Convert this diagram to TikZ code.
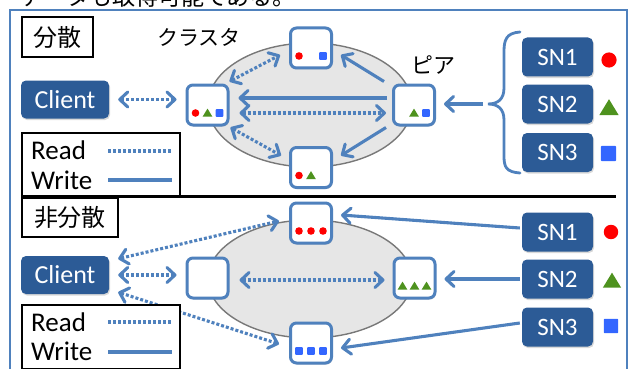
\documentclass[tikz,border=0pt]{standalone}
\usepackage{fontspec}
\setmainfont{Carlito}
\newfontfamily\jp{Noto Sans CJK JP}
\usetikzlibrary{arrows.meta,calc,shadows,shapes.geometric}

\definecolor{linkblue}{RGB}{79,129,189}
\definecolor{snfill}{RGB}{44,91,150}
\definecolor{ovalfill}{RGB}{230,230,230}
\definecolor{ovaledge}{RGB}{120,120,120}
\definecolor{dotred}{RGB}{255,0,0}
\definecolor{dotgreen}{RGB}{78,146,30}
\definecolor{dotblue}{RGB}{51,102,255}

\begin{document}
\begin{tikzpicture}[x=1pt,y=-1pt,
  >={Straight Barb[length=8pt,width=15pt,round]},
  rd/.style={draw=linkblue, line width=3.1pt, dash pattern=on 3pt off 2pt},
  wr/.style={draw=linkblue, line width=3.1pt},
  softshadow/.style={drop shadow={shadow xshift=1pt, shadow yshift=-1.5pt, opacity=0.3}},
  darkbox/.style={fill=snfill, rounded corners=5pt, text=white, inner sep=0pt,
    softshadow},
  client/.style={darkbox, minimum width=88pt, minimum height=38pt,
    font=\fontsize{26}{26}\selectfont},
  snbox/.style={darkbox, minimum width=71pt, minimum height=39pt,
    font=\fontsize{25}{25}\selectfont},
  peer/.style={draw=linkblue, line width=3pt, fill=white, rounded corners=6pt,
    minimum width=41pt, minimum height=40pt, inner sep=0pt, softshadow},
  tagbox/.style={draw=black, line width=1.2pt, fill=white, inner sep=0pt,
    font=\jp\fontsize{24}{24}\selectfont},
  legbox/.style={draw=black, line width=1.2pt, fill=white, inner sep=0pt,
    minimum width=158pt},
  legtext/.style={anchor=base west, inner sep=0pt, font=\fontsize{27}{27}\selectfont},
  oval/.style={ellipse, draw=ovaledge, fill=ovalfill, line width=1.4pt, inner sep=0pt},
  rdot/.pic={\fill[dotred] (0,0) circle (3.8);},
  gtri/.pic={\fill[dotgreen] (-4.8,3.5) -- (4.8,3.5) -- (0,-4.4) -- cycle;},
  bsq/.pic={\fill[dotblue, rounded corners=0.8pt] (-3.8,-3.8) rectangle (3.8,3.8);},
]
\useasboundingbox (0,0) rectangle (629,369);
\clip (0,0) rectangle (629,369);

% line of running text above the figure
\node[anchor=base west, inner sep=0pt, font=\jp\fontsize{23}{23}\selectfont]
  (note) at (20,6) {データも取得可能である。};

% outer frame
\draw[linkblue, line width=1.5pt] (10,380) -- (10,10) -- (627,10) -- (627,380);

%================ distributed =================
\node[tagbox, minimum width=71pt, minimum height=40pt] (tagA) at (57.5,37) {分散};
\node[font=\jp\fontsize{21}{21}\selectfont] (clusterlbl) at (199,37) {クラスタ};
\node[font=\jp\fontsize{22}{22}\selectfont] (peerlbl) at (433,65) {ピア};

\node[oval, minimum width=204pt, minimum height=124pt] (ovalA) at (310,105) {};

\node[client] (c1) at (65,99.5) {Client};

\node[peer] (L1) at (207.5,105) {};
\node[peer] (T1) at (311,48) {};
\node[peer] (R1) at (414,105) {};
\node[peer] (B1) at (311,167.5) {};

\pic at ($(L1)+(-12,8)$) {rdot};
\pic at ($(L1)+(0,8)$) {gtri};
\pic at ($(L1)+(12,8)$) {bsq};
\pic at ($(T1)+(-12,8)$) {rdot};
\pic at ($(T1)+(12,8)$) {bsq};
\pic at ($(R1)+(0,8)$) {gtri};
\pic at ($(R1)+(12,8)$) {bsq};
\pic at ($(B1)+(-12,8)$) {rdot};
\pic at ($(B1)+(0,8)$) {gtri};

\node[snbox] (sn11) at (557.5,57) {SN1};
\node[snbox] (sn12) at (557.5,104) {SN2};
\node[snbox] (sn13) at (557.5,152.5) {SN3};
\pic[scale=2] at (609,60) {rdot};
\pic[scale=2] at (609,108) {gtri};
\pic[scale=2] at (608.5,153.5) {bsq};

% brace gathering the three sources
\coordinate (braceTip) at (488,104);
\draw[linkblue, line width=2.8pt, line cap=round]
  (520,32) .. controls (506,33) and (504,40) .. (504,52) -- (504,88)
  .. controls (504,99) and (498,104) .. (braceTip)
  .. controls (498,104) and (504,109) .. (504,120) -- (504,156)
  .. controls (504,167) and (506,172) .. (520,173);

% connectors
\draw[rd,<->] ($(c1.east)+(9,0)$) -- ($(c1.east -| L1.west)+(-9,0)$);
\draw[rd,<->] ($(L1.north east)+(0,-2)$) -- ($(T1.west)+(-9,7)$);
\draw[rd,<->] ($(L1.south east)+(1,1)$) -- ($(B1.west)+(-8,-12)$);
\draw[wr,->] ($(R1.west)+(-5,-7)$) -- ($(L1.east)+(9,-7)$);
\draw[rd,<->] ($(L1.east)+(10,8)$) -- ($(R1.west)+(-6,8)$);
\draw[wr,->] ($(R1.north west)+(-8,-2)$) -- ($(T1.east)+(8,7)$);
\draw[wr,->] ($(R1.south west)+(-6,1)$) -- ($(B1.east)+(8,-12)$);
\draw[wr,->] ($(braceTip)+(-5,0)$) -- ($(R1.east)+(8,-1)$);

% legend
\node[legbox, minimum height=64pt] (legA) at (101,165) {};
\node[legtext] (readA) at (31,159) {Read};
\node[legtext] (writeA) at (31,189) {Write};
\coordinate (rdA1) at (108,151);
\coordinate (rdA2) at (172,151);
\coordinate (wrA1) at (108,180);
\coordinate (wrA2) at (172,180);
\draw[rd] (rdA1) -- (rdA2);
\draw[wr] (wrA1) -- (wrA2);

% separator
\draw[black, line width=3pt] (22,196) -- (616,196);

%================ non-distributed =================
\node[tagbox, minimum width=96pt, minimum height=39pt] (tagB) at (70,217.5) {非分散};

\node[oval, minimum width=204pt, minimum height=118pt] (ovalB) at (310,279) {};

\node[client] (c2) at (65,275) {Client};

\node[peer] (L2) at (207.5,278) {};
\node[peer] (T2) at (311,223) {};
\node[peer] (R2) at (414.5,278) {};
\node[peer] (B2) at (311,343) {};

\pic at ($(T2)+(-12,8)$) {rdot};
\pic at ($(T2)+(0,8)$) {rdot};
\pic at ($(T2)+(12,8)$) {rdot};
\pic at ($(R2)+(-12,8)$) {gtri};
\pic at ($(R2)+(0,8)$) {gtri};
\pic at ($(R2)+(12,8)$) {gtri};
\pic at ($(B2)+(-12,8)$) {bsq};
\pic at ($(B2)+(0,8)$) {bsq};
\pic at ($(B2)+(12,8)$) {bsq};

\node[snbox] (sn21) at (557.5,232) {SN1};
\node[snbox] (sn22) at (557.5,279) {SN2};
\node[snbox] (sn23) at (557.5,327) {SN3};
\pic[scale=1.9] at (611,232) {rdot};
\pic[scale=1.9] at (612,281) {gtri};
\pic[scale=1.9] at (611,326) {bsq};

% connectors
\draw[wr,->] ($(sn21.west)+(-2,-4)$) -- ($(T2.east)+(8,-8)$);
\draw[wr,->] ($(sn22.west)+(-2,0)$) -- ($(R2.east)+(8,1)$);
\draw[wr,->] ($(sn23.west)+(-2,-4)$) -- ($(B2.east)+(8,5)$);
\draw[rd,<->] ($(L2.east)+(10,2)$) -- ($(R2.west)+(-8,2)$);
\draw[rd,<->] ($(c2.north east)+(9,3)$) -- ($(T2.west)+(-10,-2)$);
\draw[rd,<->] ($(c2.east)+(9,0)$) -- ($(c2.east -| L2.west)+(-9,0)$);
\draw[rd,<->] ($(c2.south east)+(9,-2)$) -- ($(B2.west)+(-10,1)$);

% legend
\node[legbox, minimum height=64pt] (legB) at (101,337) {};
\node[legtext] (readB) at (31,331) {Read};
\node[legtext] (writeB) at (31,360) {Write};
\coordinate (rdB1) at (108,322);
\coordinate (rdB2) at (172,322);
\coordinate (wrB1) at (108,352);
\coordinate (wrB2) at (172,352);
\draw[rd] (rdB1) -- (rdB2);
\draw[wr] (wrB1) -- (wrB2);
\end{tikzpicture}
\end{document}
